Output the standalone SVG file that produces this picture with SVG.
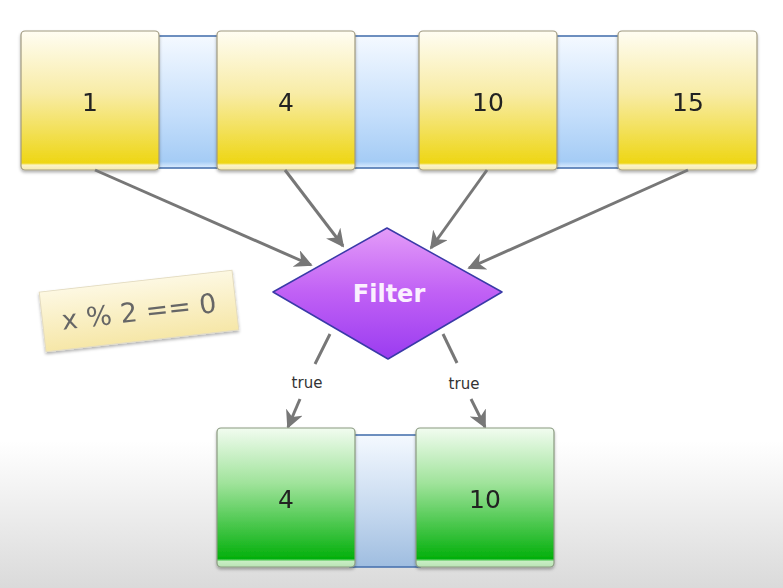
<svg xmlns="http://www.w3.org/2000/svg" width="783" height="588" viewBox="0 0 783 588">
<defs>
<linearGradient id="bg" x1="0" y1="0" x2="0" y2="1">
<stop offset="0" stop-color="#ffffff"/>
<stop offset="0.75" stop-color="#ffffff"/>
<stop offset="1" stop-color="#dadada"/>
</linearGradient>
<linearGradient id="yel" x1="0" y1="0" x2="0" y2="1">
<stop offset="0" stop-color="#fffdf2"/>
<stop offset="0.45" stop-color="#f8eca6"/>
<stop offset="0.95" stop-color="#eed614"/>
<stop offset="0.965" stop-color="#fbf3c8"/>
<stop offset="1" stop-color="#f4e9b0"/>
</linearGradient>
<linearGradient id="grn" x1="0" y1="0" x2="0" y2="1">
<stop offset="0" stop-color="#f2fcf0"/>
<stop offset="0.4" stop-color="#9fe39a"/>
<stop offset="0.94" stop-color="#03b00c"/>
<stop offset="0.96" stop-color="#c8eec4"/>
<stop offset="1" stop-color="#b9e3b4"/>
</linearGradient>
<linearGradient id="blu" x1="0" y1="0" x2="0" y2="1">
<stop offset="0" stop-color="#f4f9ff"/>
<stop offset="0.6" stop-color="#c4defb"/>
<stop offset="0.95" stop-color="#a5ccf5"/>
<stop offset="1" stop-color="#dfeeff"/>
</linearGradient>
<linearGradient id="blu2" x1="0" y1="0" x2="0" y2="1">
<stop offset="0" stop-color="#f4f9ff"/>
<stop offset="0.6" stop-color="#c3d7ee"/>
<stop offset="1" stop-color="#9fbde0"/>
</linearGradient>
<linearGradient id="pur" x1="0" y1="0" x2="0" y2="1">
<stop offset="0" stop-color="#e49cf8"/>
<stop offset="0.5" stop-color="#c060f5"/>
<stop offset="1" stop-color="#9a3cf0"/>
</linearGradient>
<linearGradient id="note" x1="0" y1="0" x2="0" y2="1">
<stop offset="0" stop-color="#fdf8e2"/>
<stop offset="1" stop-color="#f6e7a8"/>
</linearGradient>
<marker id="ah" viewBox="0 0 10 10" refX="9" refY="5" markerWidth="6" markerHeight="6" orient="auto" markerUnits="strokeWidth">
<path d="M0,0 L10,5 L0,10 L3,5 Z" fill="#777"/>
</marker>
<filter id="sh" x="-10%" y="-10%" width="120%" height="125%">
<feDropShadow dx="0" dy="2" stdDeviation="1.5" flood-color="#000" flood-opacity="0.3"/>
</filter>
</defs>
<style>
.num{font-family:"DejaVu Sans","Liberation Sans",sans-serif;font-size:25px;fill:#222;text-anchor:middle}
.box{stroke:#a09a80;stroke-width:1.2}
.gbox{stroke:#8a9a80;stroke-width:1.2}
.band{stroke:#4a74b0;stroke-width:1.6}
.conn{stroke:#777;stroke-width:3;fill:none}
.lbl{font-family:"DejaVu Sans","Liberation Sans",sans-serif;font-size:15px;fill:#333;text-anchor:middle}
</style>
<rect width="783" height="588" fill="url(#bg)"/>

<g id="top-band">
<rect x="150" y="36" width="475" height="132" fill="url(#blu)" class="band"/>
</g>
<g id="node-1" filter="url(#sh)">
<rect x="21" y="31" width="138" height="139" rx="4" fill="url(#yel)" class="box"/>
<text x="90" y="111" class="num">1</text>
</g>
<g id="node-4" filter="url(#sh)">
<rect x="217" y="31" width="138" height="139" rx="4" fill="url(#yel)" class="box"/>
<text x="286" y="111" class="num">4</text>
</g>
<g id="node-10" filter="url(#sh)">
<rect x="419" y="31" width="138" height="139" rx="4" fill="url(#yel)" class="box"/>
<text x="488" y="111" class="num">10</text>
</g>
<g id="node-15" filter="url(#sh)">
<rect x="618" y="31" width="139" height="139" rx="4" fill="url(#yel)" class="box"/>
<text x="688" y="111" class="num">15</text>
</g>

<g id="note-condition" filter="url(#sh)">
<g transform="translate(139,311) rotate(-6.5)">
<rect x="-97" y="-30" width="194" height="60" fill="url(#note)" stroke="#e4dcc0" stroke-width="1"/>
<text x="0" y="10" font-family="DejaVu Sans, Liberation Sans, sans-serif" font-size="27" fill="#666" text-anchor="middle">x % 2 == 0</text>
</g>
</g>

<g id="connectors">
<line x1="95" y1="170" x2="311" y2="265" class="conn" marker-end="url(#ah)"/>
<line x1="285" y1="170" x2="343" y2="246" class="conn" marker-end="url(#ah)"/>
<line x1="487" y1="170" x2="431" y2="248" class="conn" marker-end="url(#ah)"/>
<line x1="688" y1="170" x2="469" y2="268" class="conn" marker-end="url(#ah)"/>
<line x1="330" y1="334" x2="315" y2="364" class="conn"/>
<line x1="300" y1="399" x2="288" y2="427" class="conn" marker-end="url(#ah)"/>
<line x1="443" y1="334" x2="457" y2="363" class="conn"/>
<line x1="471" y1="399" x2="485" y2="427" class="conn" marker-end="url(#ah)"/>
<text x="307" y="388" class="lbl">true</text>
<text x="464" y="389" class="lbl">true</text>
</g>

<g id="filter">
<path d="M387,228 L502,292 L388,359 L273,292 Z" fill="url(#pur)" stroke="#3a3aa8" stroke-width="1.5" stroke-linejoin="round"/>
<text x="389" y="302" font-family="DejaVu Sans, Liberation Sans, sans-serif" font-size="24" font-weight="bold" fill="#fbf0ff" text-anchor="middle">Filter</text>
</g>

<g id="bottom-band">
<rect x="350" y="435" width="70" height="132" fill="url(#blu2)" class="band"/>
</g>
<g id="out-4" filter="url(#sh)">
<rect x="217" y="428" width="138" height="139" rx="4" fill="url(#grn)" class="gbox"/>
<text x="286" y="508" class="num">4</text>
</g>
<g id="out-10" filter="url(#sh)">
<rect x="416" y="428" width="138" height="139" rx="4" fill="url(#grn)" class="gbox"/>
<text x="485" y="508" class="num">10</text>
</g>
</svg>
